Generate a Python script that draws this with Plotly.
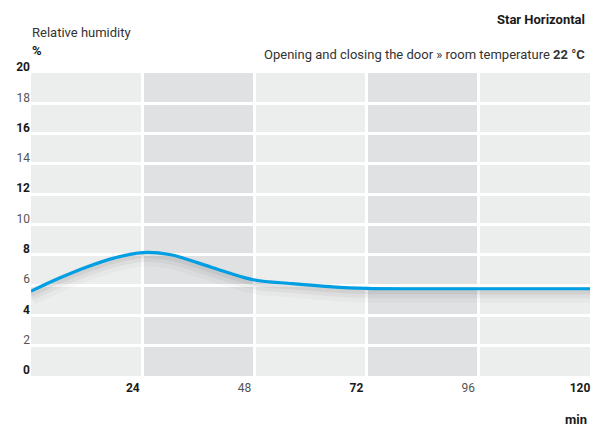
import plotly.graph_objects as go

# Data
minutes = [0, 6, 12, 18, 24, 30, 36, 42, 48, 56, 64, 72, 84, 96, 108, 120]
humidity = [5.6, 6.45, 7.2, 7.8, 8.15, 8.0, 7.45, 6.85, 6.34, 6.1, 5.9, 5.78, 5.76, 5.76, 5.76, 5.76]
x_ticks = [24, 48, 72, 96, 120]
x_bold = [True, False, True, False, True]
y_ticks = [0, 2, 4, 6, 8, 10, 12, 14, 16, 18, 20]
y_bold = [True, False] * 5 + [True]
bands = [(24, 48), (72, 96)]

FONT = "Roboto, 'Noto Sans', sans-serif"
BLUE = "#009FE3"

W, H = 592, 427
pl, pr, pt, pb = 31, 2, 73, 51
pw, ph = W - pl - pr, H - pt - pb

def px(xp):
    return (xp - pl) / pw

def py(yp):
    return (H - pb - yp) / ph

def lab(v, b):
    return f"<b>{v}</b>" if b else f"<span style='color:#555'>{v}</span>"

fig = go.Figure()

# soft shadow under the curve
for w, a, off in [(16, 0.025, 0.4), (10, 0.04, 0.3), (6, 0.05, 0.18)]:
    fig.add_trace(go.Scatter(x=minutes, y=[h - off for h in humidity], mode="lines",
                             line=dict(color=f"rgba(0,0,0,{a})", width=w, shape="spline", smoothing=1.0),
                             hoverinfo="skip", showlegend=False))

fig.add_trace(go.Scatter(x=minutes, y=humidity, mode="lines",
                         line=dict(color=BLUE, width=3.2, shape="spline", smoothing=1.0),
                         showlegend=False))

for x0, x1 in bands:
    fig.add_vrect(x0=x0, x1=x1, fillcolor="#E0E1E3", line_width=0, layer="below")

def note(text, xp, yp, anchor, size=13, color="#1a1a1a"):
    return dict(text=text, xref="paper", yref="paper", x=px(xp), y=py(yp),
                xanchor=anchor, yanchor="middle", showarrow=False,
                font=dict(size=size, color=color))

fig.update_layout(
    width=W, height=H,
    margin=dict(l=pl, r=pr, t=pt, b=pb),
    paper_bgcolor="white", plot_bgcolor="#ECEDED",
    font=dict(family=FONT, size=12, color="#1a1a1a"),
    xaxis=dict(range=[0, 120], tickvals=x_ticks,
               ticktext=[lab(v, b) for v, b in zip(x_ticks, x_bold)],
               showgrid=True, gridcolor="white", gridwidth=2.5, zeroline=False,
               showline=False, ticks="", ticklabelshift=-10, ticklabelstandoff=3,
               tickfont=dict(size=12)),
    yaxis=dict(range=[0, 20], tickvals=y_ticks,
               ticktext=[lab(v, b) for v, b in zip(y_ticks, y_bold)],
               showgrid=True, gridcolor="white", gridwidth=2.5, zeroline=False,
               showline=False, ticks="", ticklabelshift=-6, tickfont=dict(size=12)),
    annotations=[
        note("Relative humidity", 30, 33, "left", color="#333"),
        note("<b>Star Horizontal</b>", 587, 19, "right"),
        note("Opening and closing the door » room temperature <b>22 °C</b>", 587, 54, "right", color="#333"),
        note("<b>%</b>", 30, 50, "left"),
        note("<b>min</b>", 589, 419, "right"),
    ],
)

fig.write_html("out.html", config={"displayModeBar": False},
               post_script="document.body.style.margin='0';document.body.style.overflow='hidden';")
